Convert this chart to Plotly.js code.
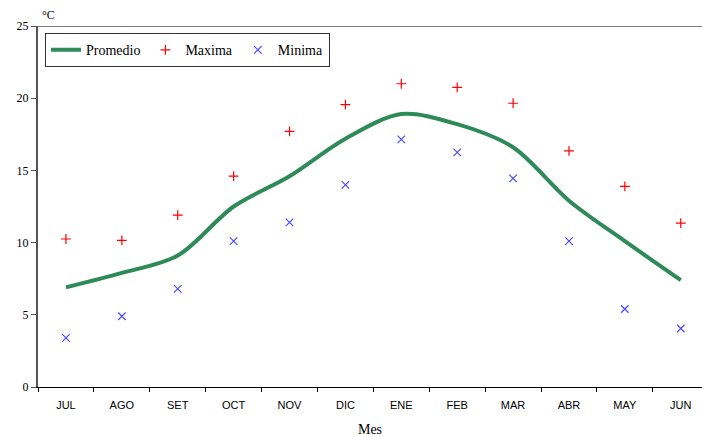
<!DOCTYPE html>
<html><head><meta charset="utf-8">
<script src="https://cdn.plot.ly/plotly-3.0.1.min.js"></script>
<style>html,body{margin:0;padding:0;background:#fff}#c{width:702px;height:437px}</style>
</head><body><div id="c"></div>
<script>
var meses = ["JUL","AGO","SET","OCT","NOV","DIC","ENE","FEB","MAR","ABR","MAY","JUN"];
var promedio = [6.9, 7.9, 9.1, 12.5, 14.6, 17.2, 18.9, 18.2, 16.6, 12.9, 10.1, 7.4];
var maxima = [10.25, 10.16, 11.9, 14.6, 17.7, 19.55, 21.0, 20.75, 19.65, 16.35, 13.9, 11.35];
var minima = [3.4, 4.9, 6.8, 10.1, 11.4, 14.0, 17.15, 16.25, 14.45, 10.1, 5.4, 4.05];
var yTicks = [0, 5, 10, 15, 20, 25];

var traces = [
  {x: meses, y: promedio, name: "Promedio", type: "scatter", mode: "lines",
   line: {color: "#2e8b57", width: 4, shape: "spline", smoothing: 0.9}},
  {x: meses, y: maxima, name: "Maxima", type: "scatter", mode: "markers",
   marker: {symbol: "cross-thin", size: 7, line: {color: "#ff0000", width: 1.2}, color: "#ff0000"}},
  {x: meses, y: minima, name: "Minima", type: "scatter", mode: "markers",
   marker: {symbol: "x-thin", size: 7.5, line: {color: "#4b4bff", width: 1.2}, color: "#4b4bff"}}
];

var layout = {
  width: 702, height: 437,
  margin: {l: 38, r: 0, t: 26, b: 50},
  paper_bgcolor: "#fff", plot_bgcolor: "#fff",
  showlegend: true,
  legend: {orientation: "h", x: 0.0105, y: 0.98, xanchor: "left", yanchor: "top",
           bordercolor: "#333", borderwidth: 1, bgcolor: "#fff",
           font: {family: "Liberation Serif, Times New Roman, serif", size: 14, color: "#000"},
           itemwidth: 30, tracegroupgap: 0},
  xaxis: {type: "category", range: [-0.5, 11.38], showgrid: false, zeroline: false,
          showline: true, linecolor: "#000", linewidth: 1,
          ticks: "outside", ticklen: 4, tickcolor: "#000", tickson: "boundaries",
          ticklabelstandoff: 8,
          tickfont: {family: "Liberation Sans, Arial, sans-serif", size: 11, color: "#000"},
          title: {text: "Mes", font: {family: "Liberation Serif, Times New Roman, serif", size: 14, color: "#000"}, standoff: 14}},
  yaxis: {range: [0, 25], tickvals: yTicks, showgrid: false, zeroline: false,
          showline: true, linecolor: "#555", linewidth: 2,
          ticks: "outside", ticklen: 5, tickcolor: "#555",
          tickfont: {family: "Liberation Serif, Times New Roman, serif", size: 12, color: "#000"}},
  shapes: [{type: "line", xref: "paper", yref: "y", x0: -0.008, x1: 1, y0: 25, y1: 25,
            line: {color: "#555", width: 1.5}}],
  annotations: [{text: "°C", xref: "paper", yref: "paper", x: 0.003, y: 1.005, xanchor: "left", yanchor: "bottom",
                 showarrow: false, font: {family: "Liberation Serif, Times New Roman, serif", size: 12, color: "#000"}}]
};
Plotly.newPlot("c", traces, layout, {displayModeBar: false, staticPlot: true});
</script></body></html>
